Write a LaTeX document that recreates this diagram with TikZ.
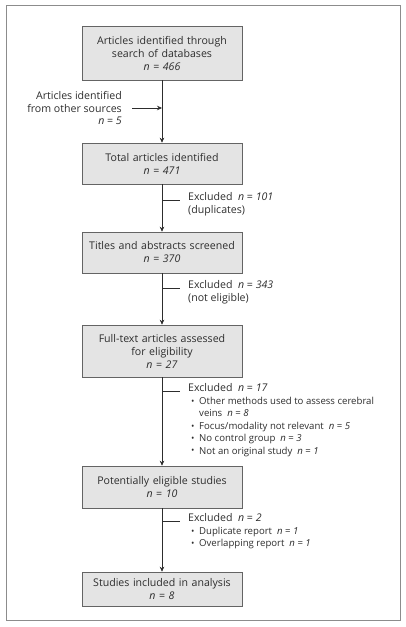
\documentclass[tikz,border=0pt]{standalone}
\usepackage{fontspec}
\setmainfont{Open Sans}
\usetikzlibrary{arrows.meta}
\definecolor{txt}{RGB}{45,45,45}
\definecolor{boxfill}{RGB}{228,228,228}
\definecolor{boxline}{RGB}{100,100,100}
\definecolor{framec}{RGB}{140,140,140}
\newcommand{\nn}[1]{\textit{n} = \textit{#1}}
\newcommand{\bul}{\makebox[8pt][l]{\raisebox{0.2pt}{\small\textbullet}}}
\begin{document}
\begin{tikzpicture}[x=1pt,y=-1pt,
  box/.style={draw=boxline,fill=boxfill,line width=0.6pt,minimum width=160pt,text width=156pt,align=center,inner sep=0pt,text=txt,font=\fontsize{10.6}{13}\selectfont},
  flow/.style={draw=txt,line width=0.6pt,-{Stealth[length=5pt,width=4.5pt]}},
  tick/.style={draw=txt,line width=0.6pt},
  note/.style={align=left,inner sep=0pt,text=txt,font=\fontsize{10.6}{12.5}\selectfont},
  small/.style={font=\fontsize{9.6}{12.4}\selectfont}
]
\useasboundingbox (0,0) rectangle (406,627);
\draw[framec,line width=1pt] (6,5) rectangle (400,620);

\node[box,minimum height=54pt] (b1) at (162,53) {Articles identified through\\search of databases\\\nn{466}};
\node[box,minimum height=41pt] (b2) at (162,163.5) {Total articles identified\\\nn{471}};
\node[box,minimum height=41pt] (b3) at (162,252.5) {Titles and abstracts screened\\\nn{370}};
\node[box,minimum height=52pt] (b4) at (162,351) {Full-text articles assessed\\for eligibility\\\nn{27}};
\node[box,minimum height=42pt] (b5) at (162,487) {Potentially eligible studies\\\nn{10}};
\node[box,minimum height=34pt] (b6) at (162,589) {Studies included in analysis\\\nn{8}};

\draw[flow] (b1) -- (b2);
\draw[flow] (b2) -- (b3);
\draw[flow] (b3) -- (b4);
\draw[flow] (b4) -- (b5);
\draw[flow] (b5) -- (b6);

% other sources
\node[note,align=right,anchor=east] (os) at (122,108) {Articles identified\\from other sources\\\nn{5}};
\coordinate (j0) at (162,108);
\coordinate (s0) at (132,108);
\draw[flow] (s0) -- (j0);

% exclusions
\coordinate (t1) at (162,200); \coordinate (t1e) at (180,200);
\draw[tick] (t1) -- (t1e);
\node[note,anchor=north west] (e1) at (188,192.5) {Excluded\ \ \nn{101}\\(duplicates)};

\coordinate (t2) at (162,288); \coordinate (t2e) at (180,288);
\draw[tick] (t2) -- (t2e);
\node[note,anchor=north west] (e2) at (188,280.5) {Excluded\ \ \nn{343}\\(not eligible)};

\coordinate (t3) at (162,391); \coordinate (t3e) at (180,391);
\draw[tick] (t3) -- (t3e);
\node[note,anchor=north west] (e3) at (188,383.5) {Excluded\ \ \nn{17}};
\node[note,small,anchor=north west] (e3l) at (191,397) {\bul Other methods used to assess cerebral\\\hspace*{8pt}veins\ \ \nn{8}\\\bul Focus/modality not relevant\ \ \nn{5}\\\bul No control group\ \ \nn{3}\\\bul Not an original study\ \ \nn{1}};

\coordinate (t4) at (162,521); \coordinate (t4e) at (180,521);
\draw[tick] (t4) -- (t4e);
\node[note,anchor=north west] (e4) at (188,513.5) {Excluded\ \ \nn{2}};
\node[note,small,anchor=north west] (e4l) at (191,527) {\bul Duplicate report\ \ \nn{1}\\\bul Overlapping report\ \ \nn{1}};
\end{tikzpicture}
\end{document}
